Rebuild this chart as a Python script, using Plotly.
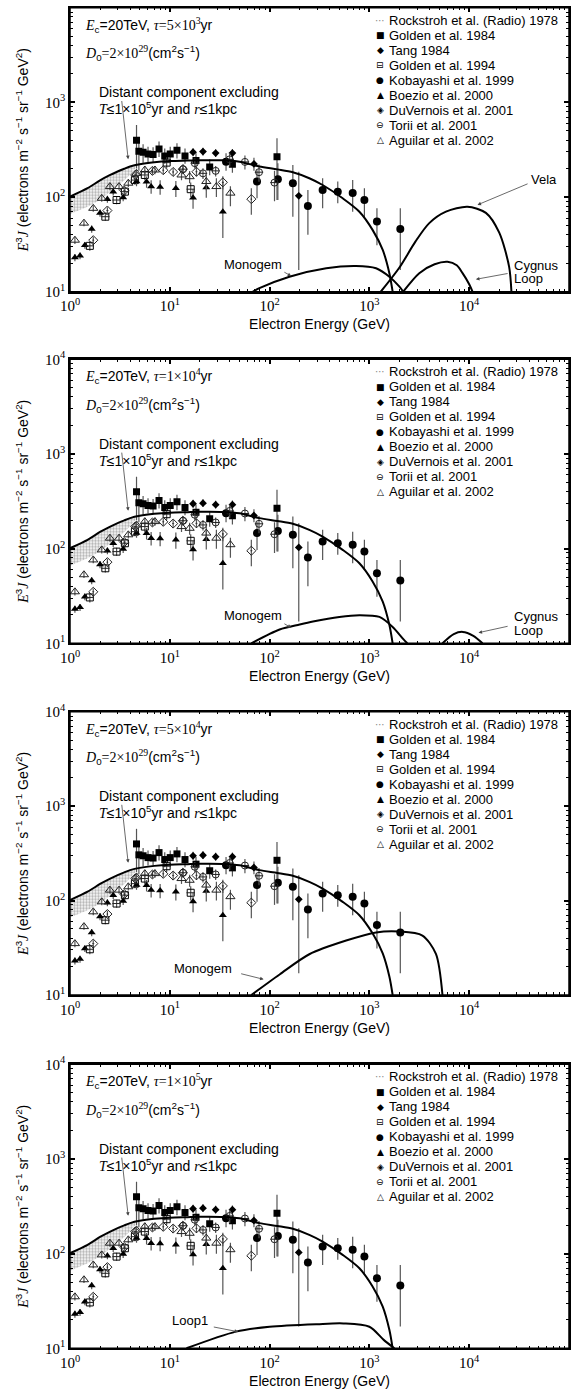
import numpy as np
import plotly.graph_objects as go

# figure fills the whole 578x1399 window; the page's default body margin is removed
W, H = 578, 1399

# ---------------- data ----------------
rock_E = [1.0, 1.2, 1.5, 2.0, 2.5, 3.0, 3.5, 4.0, 4.5]
rock_lo = [66, 71, 79, 93, 112, 129, 150, 172, 200]
rock_hi = [100, 111, 124, 150, 170, 186, 199, 210, 218]

golden84_E = [4.64, 4.9, 5.4, 6.05, 6.8, 7.8, 8.9, 10.1, 11.8, 14.2, 18.3, 25.1, 42.4, 118.6]
golden84_J = [398, 305, 298, 285, 282, 322, 272, 285, 312, 272, 243, 207, 222, 267]
golden84_lo = [200, 190, 230, 235, 235, 265, 225, 235, 255, 225, 200, 170, 180, 93]
golden84_hi = [575, 420, 360, 340, 335, 385, 325, 340, 370, 325, 290, 250, 270, 418]

tang_E = [17.1, 21.5, 28.8, 42.4, 69.7, 196]
tang_J = [298, 302, 291, 291, 224, 103]
tang_lo = [270, 275, 265, 262, 190, 17]
tang_hi = [328, 332, 320, 322, 260, 185]

golden94_E = [1.58, 2.26, 2.93, 3.55, 4.47, 5.62, 9.3, 16.2]
golden94_J = [30.5, 62, 93, 114, 151, 171, 231, 121]
golden94_lo = [27, 56, 84, 102, 135, 150, 200, 100]
golden94_hi = [34, 68, 102, 126, 167, 192, 262, 142]

kobayashi_E = [36.6, 74.8, 121, 171, 242, 340, 482, 680, 891, 1190, 2040]
kobayashi_J = [236, 146, 154, 140, 80.5, 119, 114, 110, 93, 55, 46]
kobayashi_lo = [190, 97, 93, 62, 40, 76, 86, 70, 60, 31, 17]
kobayashi_hi = [290, 192, 228, 218, 119, 158, 146, 151, 124, 76, 76]

boezio_E = [1.12, 1.26, 1.41, 1.65, 2.0, 2.37, 2.71, 3.41, 4.64, 5.85, 6.5, 8.0, 11.5, 17.1, 23.2, 34.0]
boezio_J = [23, 24, 31, 46, 68, 95, 114, 99, 146, 145, 129, 128, 124, 98, 126, 70]
boezio_lo = [21, 22, 28.5, 42, 62, 87, 104, 90, 130, 125, 108, 106, 100, 75, 98, 37]
boezio_hi = [25, 26, 33.5, 50, 74, 103, 124, 108, 162, 165, 150, 150, 148, 121, 154, 146]

duvernois_E = [1.71, 2.37, 3.5, 4.5, 6.7, 8.6, 10.8, 13.5, 18.5, 34, 65.6]
duvernois_J = [35, 72, 117, 171, 189, 192, 184, 197, 185, 143, 95]
duvernois_lo = [32, 66, 107, 156, 172, 175, 167, 178, 165, 120, 65]
duvernois_hi = [38, 78, 127, 186, 206, 209, 201, 216, 205, 166, 124]

torii_E = [13.6, 17.8, 21.5, 28.8, 39.8, 56.6, 78.3, 112]
torii_J = [197, 228, 178, 189, 250, 235, 183, 142]
torii_lo = [175, 200, 155, 165, 210, 195, 145, 90]
torii_hi = [220, 256, 201, 213, 290, 275, 221, 190]

aguilar_E = [1.12, 1.38, 1.71, 2.08, 2.51, 3.1, 3.84, 4.64, 5.62, 7.1, 13.1, 15.8, 23.2, 29.3, 40.5]
aguilar_J = [35, 53, 76, 97, 129, 129, 140, 178, 193, 193, 171, 164, 146, 129, 110]
aguilar_lo = [32, 49, 70, 89, 118, 118, 128, 162, 175, 174, 150, 140, 118, 100, 80]
aguilar_hi = [38, 57, 82, 105, 140, 140, 152, 194, 211, 212, 192, 188, 174, 158, 130]

distant_E = [1, 1.5, 2, 2.5, 3, 3.5, 4, 5, 7, 10, 15, 20, 34, 50, 79, 120, 171, 250, 340, 540, 794, 1076, 1360, 1585, 1710]
distant_J = [101, 124, 150, 170, 186, 199, 210, 222, 233, 240, 243, 245, 244, 236, 210, 196, 183, 158, 134, 97, 70, 45, 27.6, 15.7, 10]

# panel 1 (tau = 5e3 yr)
monogem1_E = [68, 79, 158, 369, 733, 1166, 1585, 2000, 2180]
monogem1_J = [10, 10.9, 14.4, 17.7, 18.7, 17.7, 14.4, 11.3, 10]
vela1_E = [1300, 2000, 2900, 3980, 5850, 9600, 14700, 20000, 25100, 26500]
vela1_J = [10, 18, 34, 53, 70, 79, 68, 42, 18.4, 10]
cygnus1_E = [2180, 3160, 4500, 6070, 7500, 8580, 10000, 10800]
cygnus1_J = [10, 15.7, 19.5, 20.7, 19, 15.7, 12, 10]
# panel 2 (tau = 1e4 yr)
monogem2_E = [65.6, 126, 200, 272, 500, 794, 1260, 1710, 2200, 2400]
monogem2_J = [10, 14, 15.8, 17, 19, 19.8, 19, 14.9, 11, 10]
cygnus2_E = [5400, 7000, 8600, 11000, 13600]
cygnus2_J = [10, 12.5, 13.2, 12, 10]
# panel 3 (tau = 5e4 yr)
monogem3_E = [65.6, 126, 250, 585, 1166, 2000, 3400, 4640, 5400]
monogem3_J = [10, 16.5, 27, 37.7, 46, 47, 42.6, 27.3, 10]
# panel 4 (tau = 1e5 yr)
loop1_E = [14.7, 46, 100, 300, 550, 1000, 1400, 1780]
loop1_J = [10, 15, 16.9, 18, 18.3, 16.9, 12.2, 10]

tau_labels = ["5×10<sup>3</sup>", "1×10<sup>4</sup>", "5×10<sup>4</sup>", "1×10<sup>5</sup>"]
x_tickvals = [1, 10, 100, 1000, 10000, 100000]
x_ticktext = ["10<sup>0</sup>", "10<sup>1</sup>", "10<sup>2</sup>", "10<sup>3</sup>", "10<sup>4</sup>", "10<sup>5</sup>"]
y_tickvals = [10, 100, 1000, 10000]
y_ticktext = ["10<sup>1</sup>", "10<sup>2</sup>", "10<sup>3</sup>", "10<sup>4</sup>"]

legend_names = ["Rockstroh et al. (Radio) 1978", "Golden et al. 1984", "Tang 1984",
                "Golden et al. 1994", "Kobayashi et al. 1999", "Boezio et al. 2000",
                "DuVernois et al. 2001", "Torii et al. 2001", "Aguilar et al. 2002"]
legend_glyphs = ["⋯", "■", "◆", "⊟", "●", "▲", "◈", "⊖", "△"]

# ---------------- layout geometry (page pixels) ----------------
tops = [7.7, 359.3, 711.7, 1064.3]
bots = [291.7, 643.3, 995.0, 1348.3]
XL, XR = 70, 569

def px_x(x):
    return min(1.0, max(0.0, x / W))

def px_y(y):
    return min(1.0, max(0.0, 1 - y / H))

SERIF = "Liberation Serif"
SANS = "Liberation Sans"
ERRC = "#555"
EPS = 1e-6  # keeps the end-of-range decade ticks inside the axis range

def sp(t):
    return f'<span style="font-family:{SERIF}">{t}</span>'

def errbar(J, lo, hi):
    return dict(type="data", symmetric=False,
                array=[h - j for j, h in zip(J, hi)],
                arrayminus=[j - l for j, l in zip(J, lo)],
                color=ERRC, thickness=1.2, width=0)

fig = go.Figure()

series = [
    (golden84_E, golden84_J, golden84_lo, golden84_hi, dict(symbol="square", size=7, color="black")),
    (tang_E, tang_J, tang_lo, tang_hi, dict(symbol="diamond", size=6, color="black")),
    (golden94_E, golden94_J, golden94_lo, golden94_hi, dict(symbol="square-open", size=7, color="black", line=dict(width=1))),
    (kobayashi_E, kobayashi_J, kobayashi_lo, kobayashi_hi, dict(symbol="circle", size=8, color="black")),
    (boezio_E, boezio_J, boezio_lo, boezio_hi, dict(symbol="triangle-up", size=7, color="black")),
    (duvernois_E, duvernois_J, duvernois_lo, duvernois_hi, dict(symbol="diamond-open-dot", size=7, color="#222", line=dict(width=1))),
    (torii_E, torii_J, torii_lo, torii_hi, dict(symbol="circle-open", size=7, color="#222", line=dict(width=1))),
    (aguilar_E, aguilar_J, aguilar_lo, aguilar_hi, dict(symbol="triangle-up-open", size=8, color="#222", line=dict(width=1))),
]

pulsars = [
    [(monogem1_E, monogem1_J), (vela1_E, vela1_J), (cygnus1_E, cygnus1_J)],
    [(monogem2_E, monogem2_J), (cygnus2_E, cygnus2_J)],
    [(monogem3_E, monogem3_J)],
    [(loop1_E, loop1_J)],
]

annotations = []
shapes = []
layout_axes = {}

for p in range(4):
    sfx = "" if p == 0 else str(p + 1)
    xa, ya = "x" + sfx, "y" + sfx
    # Rockstroh radio band (dotted)
    fig.add_trace(go.Scatter(x=rock_E, y=rock_lo, mode="lines", line=dict(width=0),
                             xaxis=xa, yaxis=ya, showlegend=False, hoverinfo="skip"))
    fig.add_trace(go.Scatter(x=rock_E, y=rock_hi, mode="lines", line=dict(width=0),
                             fill="tonexty", fillcolor="rgba(0,0,0,0)",
                             fillpattern=dict(shape=".", size=3, solidity=0.5,
                                              fgcolor="#666", bgcolor="rgba(0,0,0,0)"),
                             xaxis=xa, yaxis=ya, showlegend=False, name=legend_names[0]))
    # data sets
    for (E, J, lo, hi, mk), nm in zip(series, legend_names[1:]):
        fig.add_trace(go.Scatter(x=E, y=J, mode="markers", marker=mk,
                                 error_y=errbar(J, lo, hi), name=nm,
                                 xaxis=xa, yaxis=ya, showlegend=False))
    # horizontal bars inside Golden 1994 / Torii symbols
    for E, J in [(golden94_E, golden94_J), (torii_E, torii_J)]:
        fig.add_trace(go.Scatter(x=E, y=J, mode="markers",
                                 marker=dict(symbol="line-ew", size=6, line=dict(width=1, color="#222")),
                                 xaxis=xa, yaxis=ya, showlegend=False, hoverinfo="skip"))
    # model curves
    fig.add_trace(go.Scatter(x=distant_E, y=distant_J, mode="lines",
                             line=dict(color="black", width=2, shape="spline", smoothing=0.8),
                             xaxis=xa, yaxis=ya, showlegend=False, name="Distant component"))
    for E, J in pulsars[p]:
        fig.add_trace(go.Scatter(x=E, y=J, mode="lines",
                                 line=dict(color="black", width=2, shape="spline", smoothing=0.8),
                                 xaxis=xa, yaxis=ya, showlegend=False))

    top, bot = tops[p], bots[p]
    layout_axes["xaxis" + sfx] = dict(
        type="log", range=[0 - EPS, 5 + EPS], domain=[px_x(XL), px_x(XR)], anchor=ya, automargin=False,
        tickmode="array", tickvals=x_tickvals, ticktext=x_ticktext,
        ticks="inside", ticklen=5, tickwidth=1.5, tickcolor="black",
        minor=dict(ticks="inside", ticklen=3, tickwidth=1, tickcolor="black", dtick="D1", showgrid=False),
        showline=True, linecolor="black", linewidth=1.5, mirror="ticks",
        showgrid=False, zeroline=False,
        tickfont=dict(family=SERIF, size=15, color="black"),
        title=dict(text="Electron Energy (GeV)", font=dict(family=SANS, size=14, color="black"), standoff=6),
    )
    layout_axes["yaxis" + sfx] = dict(
        type="log", range=[1 - EPS, 4 + EPS], domain=[px_y(bot), px_y(top)], anchor=xa, automargin=False,
        tickmode="array", tickvals=y_tickvals, ticktext=y_ticktext,
        ticks="inside", ticklen=5, tickwidth=1.5, tickcolor="black",
        minor=dict(ticks="inside", ticklen=3, tickwidth=1, tickcolor="black", dtick="D1", showgrid=False),
        showline=True, linecolor="black", linewidth=1.5, mirror="ticks",
        showgrid=False, zeroline=False,
        tickfont=dict(family=SERIF, size=15, color="black"),
        title=dict(text=f'<i>{sp("E")}</i><sup>3</sup><i>{sp("J")}</i> (electrons m<sup>−2</sup> s<sup>−1</sup> sr<sup>−1</sup> GeV<sup>2</sup>)',
                   font=dict(family=SANS, size=14, color="black"), standoff=13),
    )
    # plot frame
    shapes.append(dict(type="rect", xref=f"{xa} domain", yref=f"{ya} domain",
                       x0=0, x1=1, y0=0, y1=1, line=dict(color="black", width=1.5),
                       fillcolor="rgba(0,0,0,0)", layer="above"))

    def ann(x, y, text, xanchor="left", size=14, **kw):
        d = dict(x=x, y=y, xref=xa, yref=ya, text=text, showarrow=False, xanchor=xanchor,
                 yanchor="middle", font=dict(family=SANS, size=size, color="black"))
        d.update(kw)
        annotations.append(d)

    def arrow(hx, hy, tx, ty):
        annotations.append(dict(x=hx, y=hy, ax=tx, ay=ty, xref=xa, yref=ya, axref=xa, ayref=ya,
                                text="", showarrow=True, arrowhead=2, arrowsize=0.9,
                                arrowwidth=0.8, arrowcolor="#444"))

    # panel header texts
    ann(0.133, 3.82, f'<i>{sp("E")}</i><sub>c</sub>=20TeV, {sp("<i>τ</i>=" + tau_labels[p])}yr')
    ann(0.133, 3.52, f'<i>{sp("D")}</i><sub>0</sub>{sp("=2×10<sup>29</sup>")}(cm<sup>2</sup>s<sup>−1</sup>)')
    ann(0.267, 3.105, "Distant component excluding")
    ann(0.267, 2.94, f'<i>{sp("T")}</i>≤1×10<sup>5</sup>yr and <i>{sp("r")}</i>≤1kpc')
    arrow(0.583, 2.40, 0.517, 3.03)

    # pulsar labels
    if p in (0, 1):
        ann(1.835, 1.29, "Monogem", xanchor="center", size=13)
        arrow(2.217, 1.165, 2.133, 1.215)
        ann(4.433, 1.282, "Cygnus", size=13)
        ann(4.433, 1.14, "Loop", size=13)
        if p == 0:
            arrow(4.067, 1.131, 4.40, 1.195)
            ann(4.75, 2.181, "Vela", xanchor="center", size=13)
            arrow(4.083, 1.917, 4.60, 2.146)
        else:
            arrow(4.093, 1.112, 4.40, 1.183)
    elif p == 2:
        ann(1.333, 1.282, "Monogem", xanchor="center", size=13)
        arrow(1.94, 1.166, 1.70, 1.229)
    else:
        ann(1.2, 1.298, "Loop1", xanchor="center", size=13)
        arrow(1.685, 1.175, 1.426, 1.228)

    # legend block (glyph + name), one row per data set
    for k, (g, nm) in enumerate(zip(legend_glyphs, legend_names)):
        ypx = top + 12.5 + 15 * k
        annotations.append(dict(x=px_x(380), y=px_y(ypx), xref="paper", yref="paper", text=g,
                                showarrow=False, xanchor="center", yanchor="middle",
                                font=dict(family="DejaVu Sans", size=9 if k else 10,
                                          color="#888" if k == 0 else "black")))
        annotations.append(dict(x=px_x(387), y=px_y(ypx), xref="paper", yref="paper", text=nm,
                                showarrow=False, xanchor="left", yanchor="middle",
                                font=dict(family=SANS, size=13, color="black")))

fig.update_layout(
    width=W, height=H, autosize=False, margin=dict(l=0, r=0, t=0, b=0, autoexpand=False),
    paper_bgcolor="white", plot_bgcolor="white",
    showlegend=False, annotations=annotations, shapes=shapes, **layout_axes,
)

fig.write_html(
    "out.html",
    config={"responsive": False, "displayModeBar": False},
    post_script="document.body.style.margin='0';document.body.style.padding='0';"
                "document.body.style.overflow='hidden';",
)
